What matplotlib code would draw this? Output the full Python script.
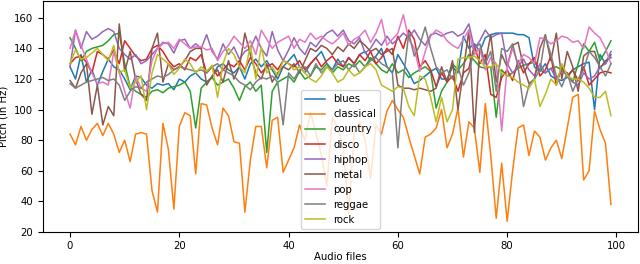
import numpy as np
import matplotlib
matplotlib.use("Agg")
import matplotlib.pyplot as plt

# pitch per audio file
genres = ['blues', 'classical', 'country', 'disco', 'hiphop', 'metal', 'pop', 'reggae', 'rock']

blues = [128, 120, 136, 118, 126, 116, 125, 133, 128, 126,
         120, 113, 122, 121, 116, 114, 117, 116, 117, 113,
         120, 118, 122, 124, 120, 118, 121, 128, 130, 126,
         124, 128, 120, 130, 133, 128, 132, 126, 120, 128,
         132, 136, 128, 124, 130, 134, 138, 130, 126, 133,
         128, 134, 130, 136, 138, 132, 135, 140, 128, 124,
         136, 130, 124, 117, 119, 122, 125, 127, 120, 120,
         128, 124, 148, 140, 143, 138, 147, 149, 150, 150,
         150, 150, 149, 149, 147, 128, 125, 130, 122, 120,
         119, 121, 126, 128, 130, 131, 100, 136, 130, 136]

classical = [84, 77, 89, 80, 87, 91, 83, 91, 84, 72,
             80, 66, 84, 85, 84, 47, 33, 91, 74, 35,
             89, 98, 96, 58, 104, 103, 88, 77, 101, 96,
             79, 78, 33, 67, 89, 89, 62, 93, 95, 59,
             67, 75, 90, 80, 98, 85, 70, 50, 95, 88,
             75, 32, 85, 92, 80, 55, 90, 84, 99, 106,
             100, 95, 82, 70, 58, 82, 84, 88, 100, 75,
             84, 101, 69, 92, 88, 59, 104, 70, 29, 65,
             27, 60, 88, 90, 70, 86, 82, 67, 75, 80,
             68, 88, 108, 110, 54, 60, 99, 87, 78, 38]

country = [147, 140, 132, 138, 140, 141, 142, 145, 149, 150,
           130, 115, 112, 110, 108, 112, 113, 111, 114, 115,
           116, 118, 112, 88, 114, 118, 121, 116, 118, 120,
           114, 106, 115, 118, 112, 116, 72, 112, 118, 120,
           122, 118, 125, 120, 122, 128, 126, 130, 124, 128,
           126, 130, 128, 132, 128, 134, 130, 126, 124, 130,
           124, 126, 121, 124, 126, 128, 125, 101, 112, 118,
           130, 126, 130, 136, 132, 128, 127, 128, 95, 126,
           122, 124, 127, 129, 130, 131, 126, 124, 127, 128,
           126, 124, 118, 130, 143, 138, 144, 132, 138, 145]

disco = [130, 134, 135, 131, 124, 138, 136, 133, 139, 130,
         145, 140, 135, 132, 133, 140, 142, 138, 132, 128,
         130, 126, 134, 132, 136, 124, 128, 122, 126, 130,
         128, 132, 126, 134, 130, 124, 128, 130, 126, 132,
         130, 128, 132, 126, 130, 134, 128, 132, 135, 130,
         128, 134, 130, 136, 132, 138, 130, 134, 140, 136,
         148, 140, 152, 146, 128, 132, 126, 115, 124, 118,
         122, 112, 124, 127, 142, 130, 136, 110, 108, 121,
         126, 119, 132, 124, 130, 134, 122, 126, 135, 116,
         128, 122, 126, 119, 128, 116, 120, 124, 125, 124]

hiphop = [128, 152, 140, 151, 146, 148, 151, 153, 151, 140,
          136, 133, 136, 130, 132, 136, 140, 144, 143, 137,
          145, 146, 140, 143, 140, 149, 138, 133, 143, 136,
          141, 133, 138, 140, 148, 140, 135, 151, 139, 132,
          139, 147, 140, 136, 144, 141, 146, 150, 152, 148,
          152, 145, 143, 147, 137, 140, 146, 142, 148, 143,
          146, 150, 147, 152, 146, 142, 149, 150, 148, 150,
          151, 148, 150, 156, 140, 145, 152, 147, 149, 150,
          130, 124, 128, 133, 126, 122, 130, 124, 127, 120,
          126, 122, 118, 116, 124, 120, 122, 128, 130, 138]

metal = [119, 114, 124, 130, 97, 116, 90, 102, 96, 156,
         125, 138, 120, 110, 106, 140, 150, 118, 130, 126,
         128, 132, 138, 140, 140, 116, 122, 126, 118, 132,
         120, 128, 150, 136, 124, 120, 130, 118, 124, 128,
         126, 130, 124, 132, 140, 138, 142, 140, 136, 141,
         138, 143, 140, 145, 142, 138, 140, 136, 138, 140,
         116, 114, 114, 113, 114, 113, 112, 114, 128, 118,
         132, 100, 126, 152, 85, 140, 130, 149, 118, 136,
         128, 142, 144, 128, 117, 120, 140, 149, 132, 150,
         120, 138, 128, 112, 135, 138, 138, 127, 132, 134]

pop = [140, 152, 142, 133, 124, 117, 118, 116, 138, 124,
       112, 101, 122, 114, 112, 132, 140, 143, 144, 140,
       146, 143, 140, 141, 141, 139, 140, 132, 138, 142,
       148, 144, 140, 145, 136, 152, 146, 140, 144, 146,
       148, 140, 146, 144, 150, 146, 148, 145, 143, 146,
       150, 142, 146, 148, 152, 144, 150, 159, 142, 146,
       150, 162, 146, 140, 125, 138, 148, 152, 150, 145,
       142, 140, 146, 152, 136, 140, 126, 134, 130, 86,
       128, 140, 130, 136, 134, 130, 147, 146, 143, 145,
       148, 147, 144, 145, 140, 154, 150, 147, 140, 130]

reggae = [117, 114, 116, 118, 119, 120, 121, 119, 120, 116,
          106, 112, 115, 114, 118, 120, 122, 121, 123, 126,
          128, 127, 126, 125, 126, 124, 128, 130, 126, 124,
          122, 118, 116, 113, 118, 121, 120, 122, 118, 90,
          124, 120, 126, 128, 122, 130, 124, 128, 126, 130,
          132, 126, 130, 124, 128, 132, 134, 130, 128, 124,
          75, 120, 150, 135, 142, 154, 140, 128, 124, 126,
          120, 128, 116, 124, 140, 143, 130, 138, 112, 140,
          138, 143, 128, 102, 116, 120, 126, 148, 136, 122,
          115, 124, 112, 120, 126, 138, 134, 128, 122, 130]

rock = [130, 139, 133, 134, 137, 140, 136, 132, 142, 124,
        126, 114, 118, 122, 100, 124, 136, 133, 130, 123,
        127, 133, 130, 124, 128, 125, 129, 108, 130, 140,
        136, 128, 124, 142, 120, 141, 124, 128, 122, 132,
        130, 126, 128, 124, 120, 118, 122, 128, 124, 118,
        120, 126, 122, 124, 128, 130, 126, 116, 114, 112,
        115, 114, 102, 96, 122, 120, 108, 92, 108, 92,
        100, 133, 134, 134, 135, 132, 128, 128, 130, 124,
        122, 121, 118, 116, 114, 120, 102, 110, 120, 116,
        130, 122, 120, 120, 118, 114, 108, 108, 112, 96]

series = [blues, classical, country, disco, hiphop, metal, pop, reggae, rock]

plt.rcParams['font.size'] = 7.3

fig = plt.figure(figsize=(6.4, 2.64), dpi=100)
ax = fig.add_axes([43 / 640, 32 / 264, 595 / 640, 231 / 264])

for name, vals in zip(genres, series):
    ax.plot(np.arange(len(vals)), vals, linewidth=1.1, label=name)

ax.set_ylim(20, 171)
ax.set_xticks([0, 20, 40, 60, 80, 100])
ax.set_yticks([20, 40, 60, 80, 100, 120, 140, 160])
ax.tick_params(axis='x', pad=3)
ax.set_xlabel('Audio files', labelpad=1)
ax.set_ylabel('Pitch (in Hz)')
ax.legend(loc='lower center', borderaxespad=0.3)

fig.savefig('out.png', dpi=100)
